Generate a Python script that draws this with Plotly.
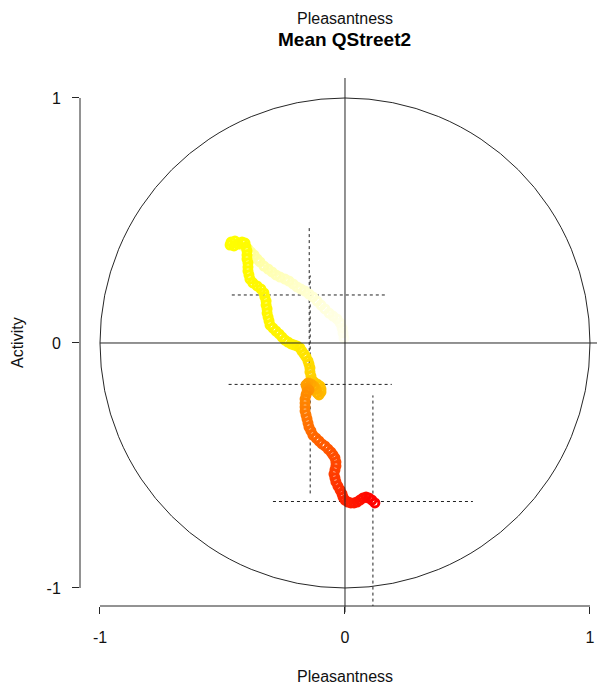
import plotly.graph_objects as go

# ---- data ----
path_x = [
    -0.004, -0.008, -0.012, -0.020, -0.033, -0.049, -0.065, -0.082, -0.098, -0.114,
    -0.131, -0.147, -0.163, -0.180, -0.196, -0.212, -0.229, -0.245, -0.265, -0.282,
    -0.298, -0.314, -0.331, -0.347, -0.359, -0.371, -0.384, -0.396, -0.408, -0.420,
    -0.433,
    -0.449, -0.465, -0.469, -0.453, -0.437, -0.420, -0.408, -0.404, -0.400, -0.400,
    -0.400, -0.396, -0.396, -0.396, -0.392, -0.388, -0.376, -0.359, -0.343, -0.331,
    -0.327, -0.322, -0.322, -0.318, -0.318, -0.314, -0.310, -0.306, -0.294, -0.282,
    -0.269, -0.257, -0.245, -0.233, -0.220, -0.208, -0.196, -0.184, -0.176, -0.167,
    -0.159, -0.151, -0.147, -0.143, -0.143, -0.139, -0.135,
    -0.127, -0.114, -0.102, -0.098, -0.098, -0.106, -0.114, -0.118, -0.127, -0.139,
    -0.151, -0.159, -0.155, -0.147, -0.155, -0.159,
    -0.163, -0.163, -0.163, -0.163, -0.159, -0.155, -0.151, -0.147, -0.139, -0.131,
    -0.118, -0.106, -0.094, -0.082, -0.069, -0.057, -0.049, -0.041, -0.037, -0.037,
    -0.041, -0.045, -0.041, -0.037, -0.029, -0.020, -0.012, -0.008, 0.000, 0.012,
    0.024, 0.037, 0.049, 0.061, 0.073, 0.086, 0.098, 0.110, 0.122,
]
path_y = [
    0.020, 0.041, 0.061, 0.082, 0.098, 0.110, 0.122, 0.139, 0.155, 0.171,
    0.188, 0.200, 0.212, 0.220, 0.229, 0.241, 0.253, 0.261, 0.269, 0.278,
    0.290, 0.302, 0.314, 0.331, 0.343, 0.359, 0.371, 0.384, 0.392, 0.400,
    0.408,
    0.416, 0.412, 0.400, 0.396, 0.404, 0.412, 0.408, 0.392, 0.376, 0.359,
    0.343, 0.327, 0.310, 0.294, 0.278, 0.261, 0.245, 0.233, 0.220, 0.204,
    0.188, 0.171, 0.155, 0.139, 0.122, 0.106, 0.090, 0.073, 0.061, 0.049,
    0.037, 0.024, 0.012, 0.004, -0.004, -0.008, -0.012, -0.020, -0.033, -0.045,
    -0.057, -0.073, -0.086, -0.102, -0.118, -0.135, -0.151,
    -0.159, -0.167, -0.176, -0.188, -0.200, -0.212, -0.204, -0.188, -0.176, -0.167,
    -0.163, -0.171, -0.184, -0.192, -0.200, -0.212,
    -0.229, -0.245, -0.261, -0.278, -0.294, -0.310, -0.327, -0.343, -0.359, -0.376,
    -0.388, -0.400, -0.412, -0.420, -0.433, -0.445, -0.457, -0.469, -0.486, -0.502,
    -0.518, -0.535, -0.551, -0.567, -0.584, -0.600, -0.616, -0.629, -0.641, -0.649,
    -0.653, -0.653, -0.649, -0.641, -0.633, -0.629, -0.633, -0.641, -0.653,
]

# segment means and spreads (dotted crosses)
seg_mean_x = [-0.146, -0.142, 0.114]
seg_mean_y = [0.196, -0.169, -0.647]
seg_sd_x = [0.316, 0.333, 0.408]
seg_sd_y = [0.278, 0.445, 0.433]

x_ticks = [-1, 0, 1]
y_ticks = [-1, 0, 1]

main_title = "Mean QStreet2"
top_label = "Pleasantness"
x_label = "Pleasantness"
y_label = "Activity"

FONT = "Liberation Sans, Arial, sans-serif"
LINE = "#262626"

n = len(path_x)
order = list(range(n))
last = n - 1

heat_scale = [
    [0.0, "#FFFFF0"],
    [15 / last, "#FFFFC8"],
    [30 / last, "#FFFF90"],
    [31 / last, "#FFFF00"],
    [66 / last, "#FFF200"],
    [77 / last, "#FFD000"],
    [85 / last, "#FFB000"],
    [93 / last, "#FF8C00"],
    [112 / last, "#FF4A00"],
    [1.0, "#FF0000"],
]

fig = go.Figure()

# dotted crosses
cx, cy = [], []
for mx, my, sx, sy in zip(seg_mean_x, seg_mean_y, seg_sd_x, seg_sd_y):
    cx += [mx - sx, mx + sx, None, mx, mx, None]
    cy += [my, my, None, my - sy, my + sy, None]
fig.add_trace(go.Scatter(
    x=cx, y=cy, mode="lines",
    line=dict(color="#222222", width=1, dash="dot"),
    hoverinfo="skip", showlegend=False,
))

# trajectory
fig.add_trace(go.Scatter(
    x=path_x, y=path_y, mode="markers",
    marker=dict(symbol="circle-open", size=8, color=order,
                colorscale=heat_scale, cmin=0, cmax=last,
                line=dict(width=3)),
    hoverinfo="skip", showlegend=False,
))

shapes = [
    dict(type="circle", xref="x", yref="y", x0=-1, y0=-1, x1=1, y1=1,
         line=dict(color=LINE, width=1)),
    dict(type="line", xref="x", yref="y", x0=-1, x1=1.03, y0=0, y1=0,
         line=dict(color=LINE, width=1)),
    dict(type="line", xref="x", yref="paper", x0=0, x1=0, y0=-0.012, y1=1,
         line=dict(color=LINE, width=1)),
    dict(type="line", xref="x", yref="paper", x0=-1, x1=1, y0=0, y1=0,
         line=dict(color=LINE, width=1)),
    dict(type="line", xref="paper", yref="y", x0=0, x1=0, y0=-1, y1=1,
         line=dict(color=LINE, width=1)),
]

annotations = [
    dict(text=top_label, xref="x", yref="paper", x=0, y=1.1136,
         xanchor="center", yanchor="middle", showarrow=False,
         font=dict(family=FONT, size=16, color="#111111")),
    dict(text="<b>" + main_title + "</b>", xref="x", yref="paper", x=0, y=1.072,
         xanchor="center", yanchor="middle", showarrow=False,
         font=dict(family=FONT, size=19, color="#000000")),
    dict(text=x_label, xref="x", yref="paper", x=0, y=-0.1326,
         xanchor="center", yanchor="middle", showarrow=False,
         font=dict(family=FONT, size=16, color="#111111")),
    dict(text=y_label, xref="paper", yref="y", x=-0.1199, y=0,
         xanchor="center", yanchor="middle", showarrow=False, textangle=-90,
         font=dict(family=FONT, size=16, color="#111111")),
]

fig.update_layout(
    width=597, height=690,
    margin=dict(l=80, r=0, t=78, b=84),
    paper_bgcolor="white", plot_bgcolor="white",
    shapes=shapes, annotations=annotations,
    font=dict(family=FONT, size=16, color="#111111"),
    xaxis=dict(range=[-1.0816, 1.0286], showgrid=False, zeroline=False,
               showline=False, ticks="outside", ticklen=7, tickwidth=1,
               tickcolor=LINE, tickvals=x_ticks,
               ticktext=[str(v) for v in x_ticks],
               tickfont=dict(family=FONT, size=16, color="#111111"),
               ticklabelstandoff=10, fixedrange=True),
    yaxis=dict(range=[-1.0735, 1.0816], showgrid=False, zeroline=False,
               showline=False, ticks="outside", ticklen=7, tickwidth=1,
               tickcolor=LINE, tickvals=y_ticks,
               ticktext=[str(v) for v in y_ticks],
               tickfont=dict(family=FONT, size=16, color="#111111"),
               ticklabelstandoff=8, fixedrange=True),
)

fig.write_html("out.html", config={"displayModeBar": False})
